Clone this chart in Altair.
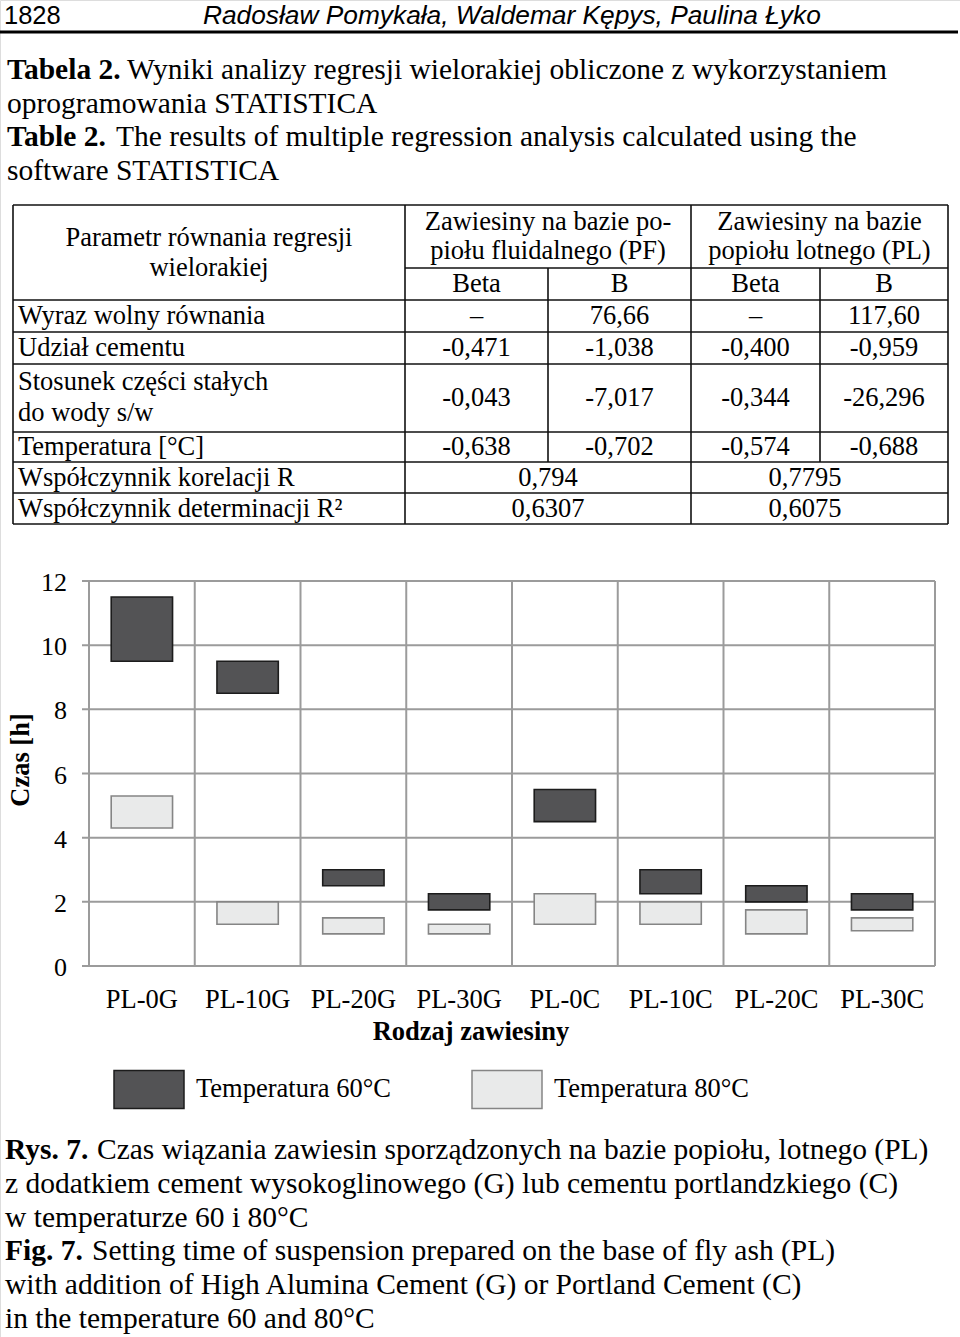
import altair as alt
import pandas as pd

# ---------------- data ----------------
categories = ["PL-0G", "PL-10G", "PL-20G", "PL-30G", "PL-0C", "PL-10C", "PL-20C", "PL-30C"]
t60_start = [9.5, 8.5, 2.5, 1.75, 4.5, 2.25, 2.0, 1.75]
t60_end = [11.5, 9.5, 3.0, 2.25, 5.5, 3.0, 2.5, 2.25]
t80_start = [4.3, 1.3, 1.0, 1.0, 1.3, 1.3, 1.0, 1.1]
t80_end = [5.3, 2.0, 1.5, 1.3, 2.25, 2.0, 1.75, 1.5]
series = ["Temperatura 60°C", "Temperatura 80°C"]
y_ticks = [0, 2, 4, 6, 8, 10, 12]

row_labels = ["Wyraz wolny równania", "Udział cementu",
              ["Stosunek części stałych", "do wody s/w"], "Temperatura [°C]"]
pf_beta = ["–", "-0,471", "-0,043", "-0,638"]
pf_b = ["76,66", "-1,038", "-7,017", "-0,702"]
pl_beta = ["–", "-0,400", "-0,344", "-0,574"]
pl_b = ["117,60", "-0,959", "-26,296", "-0,688"]
corr_label = "Współczynnik korelacji R"
det_label = "Współczynnik determinacji R²"
corr_R = ["0,794", "0,7795"]
det_R2 = ["0,6307", "0,6075"]

# ---------------- style / layout ----------------
SERIF = "Liberation Serif"
SANS = "Liberation Sans"
DARK, LIGHT = "#535355", "#e9eaea"
DARK_STROKE, LIGHT_STROKE = "#1c1c1c", "#858585"
GRID = "#9b9b9b"
BODY = 29.5
TAB = 26.5
W, H = 960, 1337


def tlayer(rows, font, size, weight="normal", style="normal", align="left",
           baseline="alphabetic", angle=0):
    df = pd.DataFrame(rows, columns=["text", "px", "py"])
    mk = dict(font=font, fontSize=size, fontWeight=weight, fontStyle=style,
              align=align, baseline=baseline, color="black")
    if angle:
        mk["angle"] = angle
    return alt.Chart(df).mark_text(**mk).encode(
        x=alt.X("px:Q", scale=None, axis=None),
        y=alt.Y("py:Q", scale=None, axis=None),
        text="text:N",
    )


def rlayer(rows, width, color="black"):
    df = pd.DataFrame(rows, columns=["px", "px2", "py", "py2"])
    return alt.Chart(df).mark_rule(color=color, strokeWidth=width).encode(
        x=alt.X("px:Q", scale=None, axis=None), x2="px2:Q",
        y=alt.Y("py:Q", scale=None, axis=None), y2="py2:Q",
    )


# ---- page header ----
header_sans = tlayer([["1828", 4, 24]], SANS, 25.5)
header_ital = tlayer([["Radosław Pomykała, Waldemar Kępys, Paulina Łyko", 203, 24]],
                     SANS, 26.3, style="italic")
header_rule = rlayer([[0, 958, 32, 32]], 3)

# ---- title + caption ----
bold_rows = [["Tabela 2.", 7, 79], ["Table 2.", 7, 146],
             ["Rys. 7.", 5, 1159], ["Fig. 7.", 5, 1260]]
norm_rows = [
    ["Wyniki analizy regresji wielorakiej obliczone z wykorzystaniem", 127, 79],
    ["oprogramowania STATISTICA", 7, 112.5],
    ["The results of multiple regression analysis calculated using the", 116, 146],
    ["software STATISTICA", 7, 179.5],
    ["Czas wiązania zawiesin sporządzonych na bazie popiołu, lotnego (PL)", 97, 1159],
    ["z dodatkiem cement wysokoglinowego (G) lub cementu portlandzkiego (C)", 5, 1193],
    ["w temperaturze 60 i 80°C", 5, 1226.5],
    ["Setting time of suspension prepared on the base of fly ash (PL)", 92, 1260],
    ["with addition of High Alumina Cement (G) or Portland Cement (C)", 5, 1294],
    ["in the temperature 60 and 80°C", 5, 1327.5],
]
title_bold = tlayer(bold_rows, SERIF, BODY, weight="bold")
title_norm = tlayer(norm_rows, SERIF, BODY)

# ---- table ----
cx = [13, 405, 548, 691, 820, 948]
ry = [205, 268, 300, 332, 364, 432, 462, 493, 524]
tab_rules = [[cx[0], cx[-1], ry[0], ry[0]], [cx[1], cx[-1], ry[1], ry[1]]]
for y in ry[2:]:
    tab_rules.append([cx[0], cx[-1], y, y])
for x in [cx[0], cx[1], cx[3], cx[5]]:
    tab_rules.append([x, x, ry[0], ry[-1]])
for x in [cx[2], cx[4]]:
    tab_rules.append([x, x, ry[1], ry[6]])
table_rules = rlayer(tab_rules, 1.6, "#111111")

col_centers = [(cx[i] + cx[i + 1]) / 2 for i in range(1, 5)]
row_centers = [(ry[i] + ry[i + 1]) / 2 for i in range(2, 8)]

center_rows = [
    ["Parametr równania regresji", 209, 238], ["wielorakiej", 209, 268],
    ["Zawiesiny na bazie po-", 548, 222], ["piołu fluidalnego (PF)", 548, 251],
    ["Zawiesiny na bazie", 819.5, 222], ["popiołu lotnego (PL)", 819.5, 251],
]
for i, lab in enumerate(["Beta", "B", "Beta", "B"]):
    center_rows.append([lab, col_centers[i], 284])
for r in range(4):
    for c, col in enumerate([pf_beta, pf_b, pl_beta, pl_b]):
        center_rows.append([col[r], col_centers[c], row_centers[r]])
center_rows += [[corr_R[0], 548, row_centers[4]], [corr_R[1], 805, row_centers[4]],
                [det_R2[0], 548, row_centers[5]], [det_R2[1], 805, row_centers[5]]]
table_center = tlayer(center_rows, SERIF, TAB, align="center", baseline="middle")

left_rows = [
    [row_labels[0], 18, row_centers[0]], [row_labels[1], 18, row_centers[1]],
    [row_labels[2][0], 18, 382], [row_labels[2][1], 18, 413],
    [row_labels[3], 18, row_centers[3]],
    [corr_label, 18, row_centers[4]], [det_label, 18, row_centers[5]],
]
table_left = tlayer(left_rows, SERIF, TAB, align="left", baseline="middle")

# ---- bar chart ----
xs = alt.Scale(domain=categories, range=[89, 935], paddingInner=0, paddingOuter=0)
ys = alt.Scale(domain=[0, 12], range=[966, 581], nice=False, zero=False)

bars_df = pd.DataFrame({
    "cat": categories * 2,
    "series": [series[0]] * len(categories) + [series[1]] * len(categories),
    "start": t60_start + t80_start,
    "end": t60_end + t80_end,
})
ticks_df = pd.DataFrame({"tick": y_ticks, "label": [str(t) for t in y_ticks]})
cats_df = pd.DataFrame({"cat": categories})

leg = alt.Legend(
    title=None, orient="none", legendX=113, legendY=1053, direction="horizontal",
    symbolType="M-1,-0.543H1V0.543H-1Z", symbolSize=4900, symbolStrokeWidth=1.5,
    labelFont=SERIF, labelFontSize=26.5, labelColor="black", labelOffset=11,
    labelLimit=400, columnPadding=78, padding=0,
)

grid_h = alt.Chart(ticks_df).mark_rule(color=GRID, strokeWidth=2).encode(
    y=alt.Y("tick:Q", scale=ys, axis=None), x=alt.value(82), x2=alt.value(935))
grid_v = alt.Chart(cats_df).mark_rule(color=GRID, strokeWidth=2).encode(
    x=alt.X("cat:N", scale=xs, axis=None, bandPosition=0),
    y=alt.Y(datum=0, scale=ys, axis=None), y2=alt.Y2(datum=12))
grid_v_end = alt.Chart(cats_df.tail(1)).mark_rule(color=GRID, strokeWidth=2).encode(
    x=alt.X("cat:N", scale=xs, axis=None, bandPosition=1),
    y=alt.Y(datum=0, scale=ys, axis=None), y2=alt.Y2(datum=12))
bars = alt.Chart(bars_df).mark_bar(width=alt.RelativeBandSize(0.58), strokeWidth=1.6,
                                   opacity=1).encode(
    x=alt.X("cat:N", scale=xs, axis=None),
    y=alt.Y("start:Q", scale=ys, axis=None), y2="end:Q",
    color=alt.Color("series:N", scale=alt.Scale(domain=series, range=[DARK, LIGHT]), legend=leg),
    stroke=alt.Stroke("series:N", scale=alt.Scale(domain=series, range=[DARK_STROKE, LIGHT_STROKE]),
                      legend=leg),
)
tick_labels = alt.Chart(ticks_df).mark_text(font=SERIF, fontSize=26, align="right",
                                             baseline="middle", dy=2, color="black").encode(
    y=alt.Y("tick:Q", scale=ys, axis=None), x=alt.value(67), text="label:N")
x_labels = alt.Chart(cats_df).mark_text(font=SERIF, fontSize=26.5, align="center",
                                         baseline="alphabetic", color="black").encode(
    x=alt.X("cat:N", scale=xs, axis=None), y=alt.value(1008), text="cat:N")

plot = alt.layer(grid_h, grid_v, grid_v_end, bars, tick_labels, x_labels)

axis_titles_x = tlayer([["Rodzaj zawiesiny", 471, 1040]], SERIF, 26.5, weight="bold", align="center")
axis_titles_y = tlayer([["Czas [h]", 28.5, 760]], SERIF, 26.5, weight="bold", align="center", angle=270)

chart = alt.layer(
    header_rule, header_sans, header_ital, title_bold, title_norm,
    table_rules, table_center, table_left,
    plot, axis_titles_x, axis_titles_y,
).resolve_scale(x="independent", y="independent").properties(
    width=W, height=H, padding={"left": 0, "right": 0, "top": 0, "bottom": 0},
    autosize=alt.AutoSizeParams(type="none"),
).configure_view(strokeWidth=0).configure(background="white")

chart.save("out.html", embed_options={"renderer": "svg", "actions": False})
